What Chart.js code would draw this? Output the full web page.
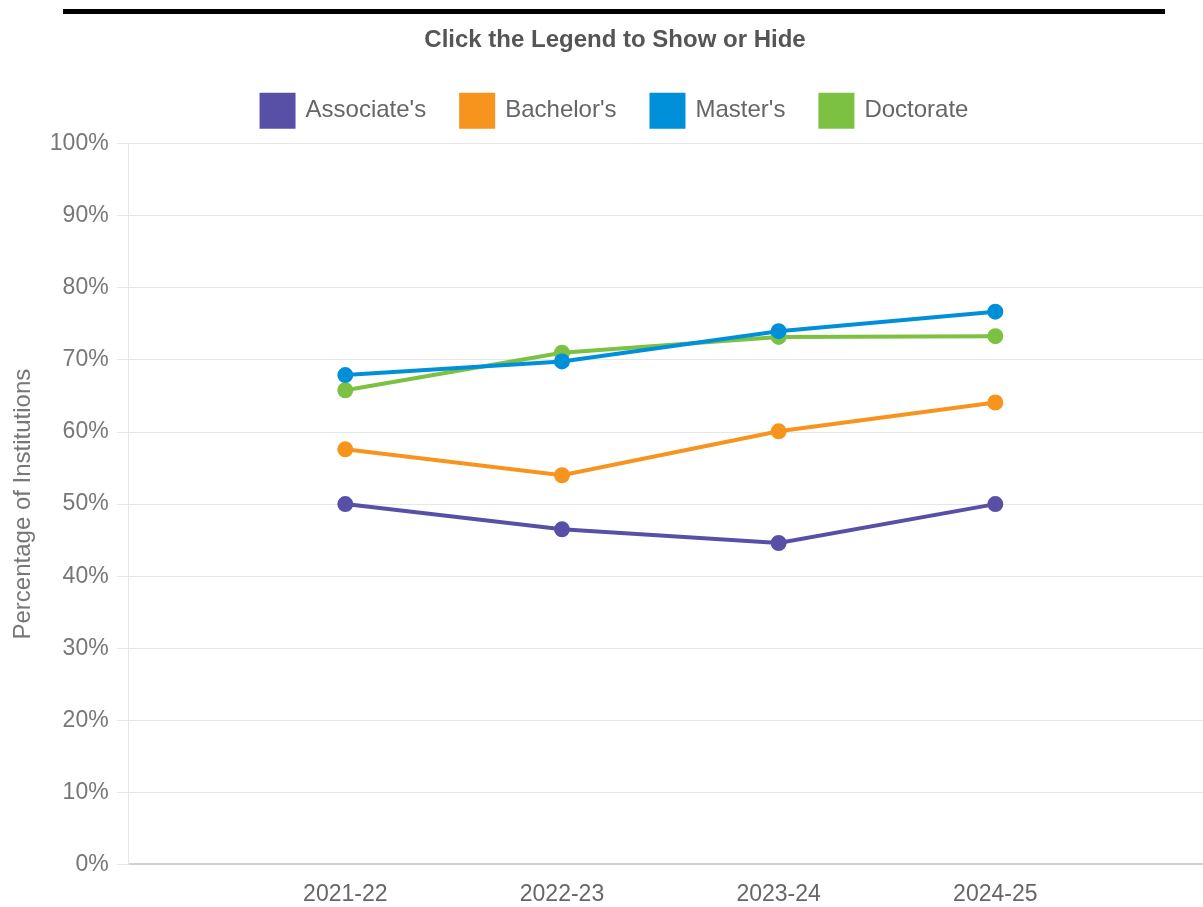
<!DOCTYPE html>
<html>
<head>
<meta charset="utf-8">
<script src="https://cdn.jsdelivr.net/npm/chart.js@4/dist/chart.umd.min.js"></script>
<style>
  html, body { margin: 0; padding: 0; background: #fff; overflow: hidden; }
  #topRule { position: absolute; left: 63px; top: 9px; width: 1102px; height: 5px; background: #000; }
  #wrap { position: absolute; left: 0; top: 0; width: 1228px; height: 907px; }
</style>
</head>
<body>
<div id="wrap"><canvas id="chart"></canvas></div>
<div id="topRule"></div>
<script>
// Academic years shown on the horizontal axis (blank slots pad both ends)
const years = ['', '2021-22', '2022-23', '2023-24', '2024-25', ''];

// Percentage of institutions by highest degree offered
const associates = [null, 50.0, 46.5, 44.6, 50.0, null];
const bachelors  = [null, 57.6, 54.0, 60.1, 64.1, null];
const masters    = [null, 67.9, 69.8, 74.0, 76.7, null];
const doctorate  = [null, 65.8, 71.0, 73.2, 73.3, null];

const seriesNames  = ["Associate's", "Bachelor's", "Master's", "Doctorate"];
const seriesColors = ['#5850a6', '#f7941d', '#0090d9', '#7cc142'];
const seriesValues = [associates, bachelors, masters, doctorate];

const FONT = '"Liberation Sans", Arial, sans-serif';

const datasets = seriesNames.map((name, i) => ({
  label: name,
  data: seriesValues[i],
  borderColor: seriesColors[i],
  backgroundColor: seriesColors[i],
  pointBackgroundColor: seriesColors[i],
  pointBorderColor: seriesColors[i],
  borderWidth: 4,
  pointRadius: 6,
  pointHoverRadius: 7,
  tension: 0,
  spanGaps: false
}));

// Adds a little breathing room between the legend and the plot area
const legendGap = {
  id: 'legendGap',
  beforeInit(chart) {
    const baseFit = chart.legend.fit;
    chart.legend.fit = function () {
      baseFit.call(this);
      this.height += 7;
    };
  }
};

new Chart(document.getElementById('chart'), {
  type: 'line',
  data: { labels: years, datasets },
  plugins: [legendGap],
  options: {
    responsive: true,
    maintainAspectRatio: false,
    animation: false,
    layout: { padding: { top: 26, right: 12, left: 14, bottom: -17 } },
    plugins: {
      title: {
        display: true,
        text: 'Click the Legend to Show or Hide',
        color: '#555',
        font: { family: FONT, size: 24, weight: 'bold' },
        padding: { top: 0, bottom: 5 }
      },
      legend: {
        position: 'top',
        labels: {
          boxWidth: 32,
          boxHeight: 32,
          padding: 35,
          color: '#666',
          font: { family: FONT, size: 24 }
        }
      },
      tooltip: { enabled: true }
    },
    scales: {
      x: {
        offset: false,
        grid: { display: false, drawTicks: false },
        border: { display: true, color: '#d0d0d0', width: 2 },
        ticks: {
          color: '#666',
          font: { family: FONT, size: 23 },
          maxRotation: 0,
          autoSkip: false,
          padding: 16
        }
      },
      y: {
        min: 0,
        max: 100,
        grid: { color: '#e6e6e6', lineWidth: 1, tickLength: 12 },
        border: { display: true, color: '#e6e6e6' },
        ticks: {
          stepSize: 10,
          color: '#777',
          font: { family: FONT, size: 23 },
          padding: 8,
          callback: v => v + '%'
        },
        title: {
          display: true,
          text: 'Percentage of Institutions',
          color: '#777',
          font: { family: FONT, size: 24 },
          padding: { top: -5, bottom: 4 }
        }
      }
    }
  }
});
</script>
</body>
</html>
